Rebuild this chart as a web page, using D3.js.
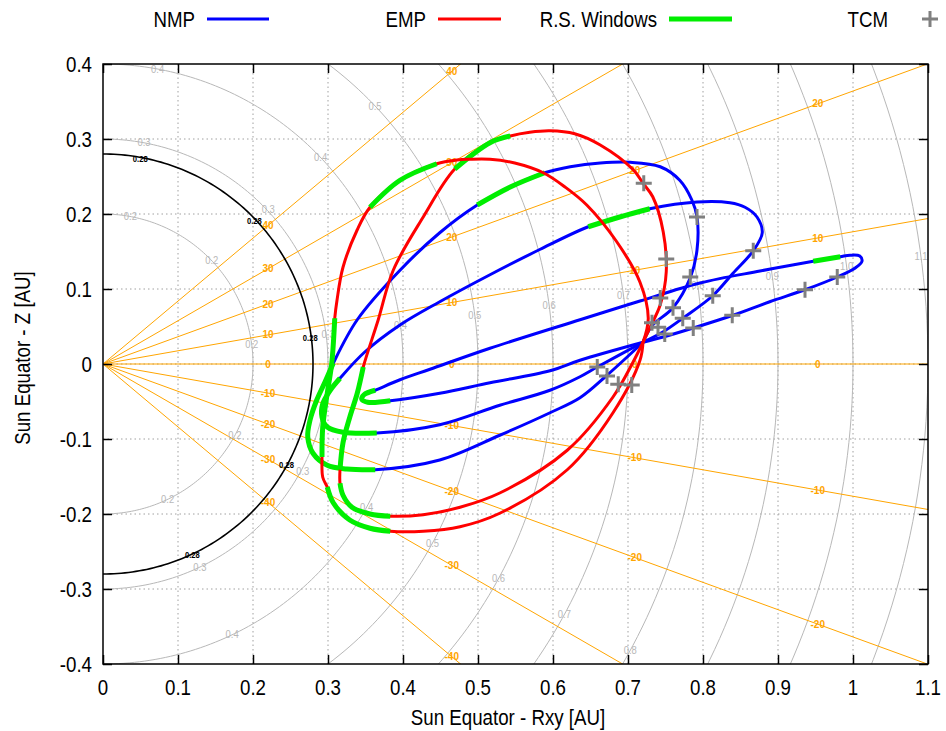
<!DOCTYPE html>
<html>
<head>
<meta charset="utf-8">
<script src="https://cdn.jsdelivr.net/npm/d3@7"></script>
<style>
  html, body { margin: 0; padding: 0; background: #fff; }
  svg { display: block; }
</style>
</head>
<body>
<script>
// ---------- axis ticks ----------
const xTicks = [0, 0.1, 0.2, 0.3, 0.4, 0.5, 0.6, 0.7, 0.8, 0.9, 1, 1.1];
const xTickLabels = ["0", "0.1", "0.2", "0.3", "0.4", "0.5", "0.6", "0.7", "0.8", "0.9", "1", "1.1"];
const yTicks = [-0.4, -0.3, -0.2, -0.1, 0, 0.1, 0.2, 0.3, 0.4];
const yTickLabels = ["-0.4", "-0.3", "-0.2", "-0.1", "0", "0.1", "0.2", "0.3", "0.4"];

// ---------- heliocentric distance circles [AU] ----------
const distanceRadii = [0.2, 0.3, 0.4, 0.5, 0.6, 0.7, 0.8, 0.9, 1.0, 1.1];
const distanceLabelAngles = [79.5, 43.5, 7.5, -28.5, -64.5];   // degrees
const perihelionRadius = 0.28;

// ---------- solar latitude lines [deg] ----------
const latitudes = [-40, -30, -20, -10, 0, 10, 20, 30, 40];
const latitudeLabelRxy = [0.22, 0.465, 0.709, 0.953];

// ---------- nominal mission phase orbits (Rxy, Z) [AU] ----------
const nmpOrbit1 = [
  [0.720, 0.029], [0.747, 0.036], [0.787, 0.048], [0.840, 0.065], [0.889, 0.083],
  [0.936, 0.099], [0.979, 0.116], [1.003, 0.128], [1.012, 0.137], [1.009, 0.144],
  [0.996, 0.145], [0.983, 0.143], [0.947, 0.137], [0.876, 0.124], [0.796, 0.108],
  [0.716, 0.084], [0.636, 0.059], [0.516, 0.021], [0.436, -0.007], [0.396, -0.021],
  [0.363, -0.035], [0.348, -0.041], [0.345, -0.047], [0.353, -0.051], [0.383, -0.049],
  [0.449, -0.039], [0.516, -0.025], [0.596, -0.009], [0.636, 0.005], [0.720, 0.029]
];
const nmpOrbit1Windows = [[11, 12], [20, 24]];

const nmpOrbit2 = [
  [0.720, 0.029], [0.747, 0.043], [0.773, 0.061], [0.813, 0.091], [0.840, 0.121],
  [0.867, 0.151], [0.879, 0.175], [0.872, 0.196], [0.856, 0.209], [0.836, 0.215],
  [0.792, 0.216], [0.729, 0.207], [0.689, 0.196], [0.647, 0.183], [0.583, 0.153],
  [0.516, 0.119], [0.449, 0.083], [0.396, 0.052], [0.349, 0.016], [0.316, -0.019],
  [0.303, -0.035], [0.293, -0.053], [0.292, -0.071], [0.299, -0.084], [0.320, -0.091],
  [0.365, -0.092], [0.449, -0.081], [0.529, -0.055], [0.596, -0.035], [0.636, -0.017],
  [0.659, -0.004], [0.720, 0.029]
];
const nmpOrbit2Windows = [[11, 13], [19, 25]];

const nmpOrbit3 = [
  [0.720, 0.029], [0.732, 0.051], [0.760, 0.075], [0.783, 0.115], [0.792, 0.152],
  [0.792, 0.196], [0.785, 0.219], [0.769, 0.245], [0.743, 0.263], [0.703, 0.269],
  [0.663, 0.268], [0.623, 0.263], [0.589, 0.255], [0.543, 0.236], [0.499, 0.212],
  [0.449, 0.175], [0.396, 0.125], [0.339, 0.059], [0.307, 0.001], [0.296, -0.024],
  [0.285, -0.048], [0.276, -0.075], [0.273, -0.097], [0.280, -0.119], [0.299, -0.135],
  [0.325, -0.140], [0.363, -0.141], [0.449, -0.128], [0.529, -0.095], [0.596, -0.065],
  [0.636, -0.045], [0.672, -0.015], [0.720, 0.029]
];
const nmpOrbit3Windows = [[12, 14], [18, 26]];

// ---------- extended mission phase orbits (Rxy, Z) [AU] ----------
const empOrbit1 = [
  [0.720, 0.029], [0.729, 0.048], [0.743, 0.079], [0.751, 0.123], [0.747, 0.176],
  [0.733, 0.223], [0.720, 0.241], [0.707, 0.259], [0.663, 0.292], [0.629, 0.307],
  [0.596, 0.311], [0.569, 0.309], [0.543, 0.304], [0.516, 0.295], [0.469, 0.260],
  [0.427, 0.196], [0.387, 0.125], [0.367, 0.059], [0.347, -0.004], [0.339, -0.039],
  [0.329, -0.071], [0.320, -0.105], [0.316, -0.141], [0.316, -0.159], [0.320, -0.175],
  [0.332, -0.191], [0.356, -0.200], [0.383, -0.203], [0.427, -0.201], [0.476, -0.191],
  [0.529, -0.172], [0.619, -0.115], [0.680, -0.044], [0.707, 0.003], [0.720, 0.029]
];
const empOrbit1Windows = [[12, 14], [18, 22], [23, 27]];

const empOrbit2 = [
  [0.720, 0.029], [0.727, 0.061], [0.716, 0.109], [0.685, 0.163], [0.645, 0.212],
  [0.616, 0.236], [0.587, 0.255], [0.549, 0.268], [0.516, 0.273], [0.489, 0.273],
  [0.472, 0.272], [0.445, 0.267], [0.396, 0.245], [0.356, 0.209], [0.339, 0.179],
  [0.320, 0.129], [0.312, 0.085], [0.309, 0.061], [0.305, 0.001], [0.299, -0.039],
  [0.293, -0.084], [0.292, -0.124], [0.293, -0.151], [0.299, -0.164], [0.307, -0.185],
  [0.329, -0.208], [0.356, -0.219], [0.383, -0.223], [0.427, -0.223], [0.476, -0.217],
  [0.529, -0.199], [0.619, -0.141], [0.680, -0.065], [0.716, 0.005], [0.720, 0.029]
];
const empOrbit2Windows = [[11, 13], [17, 21], [23, 27]];

// ---------- trajectory correction manoeuvres (Rxy, Z) [AU] ----------
const tcmRxy = [0.721, 0.792, 0.867, 0.751, 0.783, 0.743, 0.813, 0.760, 0.773, 0.839,
                0.787, 0.732, 0.740, 0.749, 0.936, 0.979, 0.659, 0.672, 0.687, 0.705];
const tcmZ   = [0.241, 0.196, 0.151, 0.140, 0.116, 0.088, 0.091, 0.075, 0.061, 0.065,
                0.048, 0.055, 0.049, 0.040, 0.099, 0.116, -0.004, -0.016, -0.027, -0.028];

// ---------- legend ----------
const legendEntries = ["NMP", "EMP", "R.S. Windows", "TCM"];

// ================= drawing =================
const W = 946, H = 731;
const plot = { left: 103, right: 928, top: 64, bottom: 664 };
const FONT = "'Liberation Sans', Arial, Helvetica, sans-serif";
const COL = { nmp: "#0000ff", emp: "#ff0000", win: "#00ee00", tcm: "#808080",
              lat: "#ffa500", circ: "#b8b8b8", grid: "#a0a0a0" };

const svg = d3.select("body").append("svg").attr("width", W).attr("height", H);

const x = d3.scaleLinear().domain([0, 1.1]).range([plot.left, plot.right]);
const y = d3.scaleLinear().domain([-0.4, 0.4]).range([plot.bottom, plot.top]);

svg.append("defs").append("clipPath").attr("id", "plotClip")
  .append("rect").attr("x", plot.left).attr("y", plot.top)
  .attr("width", plot.right - plot.left).attr("height", plot.bottom - plot.top);

// narrow-looking sans text, anchored at (px, py)
function label(g, txt, px, py, opts = {}) {
  const t = g.append("text")
    .attr("transform", `translate(${px},${py}) scale(${opts.sx || 0.85},1)`)
    .attr("text-anchor", opts.anchor || "middle")
    .attr("dominant-baseline", "central")
    .attr("font-family", FONT)
    .attr("font-size", opts.size || 22)
    .attr("fill", opts.fill || "#000")
    .text(txt);
  if (opts.weight) t.attr("font-weight", opts.weight);
  return t;
}

// grid
const grid = svg.append("g");
grid.selectAll("line.gx").data(xTicks.filter(v => v > 0 && v < 1.1)).join("line")
  .attr("x1", d => x(d)).attr("x2", d => x(d)).attr("y1", plot.top).attr("y2", plot.bottom)
  .attr("stroke", COL.grid).attr("stroke-width", 1).attr("stroke-dasharray", "1.5,3");
grid.selectAll("line.gy").data(yTicks.filter(v => v > -0.4 && v < 0.4)).join("line")
  .attr("x1", plot.left).attr("x2", plot.right).attr("y1", d => y(d)).attr("y2", d => y(d))
  .attr("stroke", COL.grid).attr("stroke-width", 1).attr("stroke-dasharray", "1.5,3");

const inner = svg.append("g").attr("clip-path", "url(#plotClip)");

// half circle of radius r (x >= 0)
function arcPts(r) {
  return d3.range(-90, 90.01, 1).map(a => [r * Math.cos(a * Math.PI / 180), r * Math.sin(a * Math.PI / 180)]);
}
const straight = d3.line().x(d => x(d[0])).y(d => y(d[1]));
const smooth = d3.line().x(d => x(d[0])).y(d => y(d[1])).curve(d3.curveCatmullRom.alpha(0.5));

// distance circles
inner.selectAll("path.circ").data(distanceRadii).join("path")
  .attr("d", r => straight(arcPts(r)))
  .attr("fill", "none").attr("stroke", COL.circ).attr("stroke-width", 1);

// latitude lines
inner.selectAll("line.lat").data(latitudes).join("line")
  .attr("x1", x(0)).attr("y1", y(0))
  .attr("x2", d => x(2 * Math.cos(d * Math.PI / 180)))
  .attr("y2", d => y(2 * Math.sin(d * Math.PI / 180)))
  .attr("stroke", COL.lat).attr("stroke-width", 1);

// distance labels
const lblG = svg.append("g");
distanceRadii.forEach(r => {
  distanceLabelAngles.forEach(a => {
    const px = r * Math.cos(a * Math.PI / 180), pz = r * Math.sin(a * Math.PI / 180);
    // small nudge so labels near the perihelion circle stay readable
    const dx = (r === 0.3 && Math.abs(a) < 45) ? 2 : 0;
    if (px <= 1.1 && Math.abs(pz) <= 0.395)
      label(lblG, d3.format(".1f")(r), x(px) + dx, y(pz), { size: 10.5, fill: COL.circ, sx: 0.9 });
  });
});

// latitude labels
latitudes.forEach(lat => {
  latitudeLabelRxy.forEach(rx => {
    const pz = rx * Math.tan(lat * Math.PI / 180);
    if (Math.abs(pz) <= 0.395)
      label(lblG, String(lat), x(rx), y(pz), { size: 10.5, fill: COL.lat, sx: 0.95, weight: "bold" });
  });
});

// perihelion circle
inner.append("path").attr("d", straight(arcPts(perihelionRadius)))
  .attr("fill", "none").attr("stroke", "#000").attr("stroke-width", 1.6);
distanceLabelAngles.forEach(a => {
  const px = perihelionRadius * Math.cos(a * Math.PI / 180), pz = perihelionRadius * Math.sin(a * Math.PI / 180);
  label(lblG, String(perihelionRadius), x(px) - 1, y(pz) + 1, { size: 9, fill: "#000", sx: 0.85, weight: "bold" });
});

// orbits
const traj = svg.append("g").attr("clip-path", "url(#plotClip)");
function drawOrbit(pts, windows, color) {
  traj.append("path").attr("d", smooth(pts)).attr("fill", "none")
    .attr("stroke", color).attr("stroke-width", 3).attr("stroke-linejoin", "round");
  windows.forEach(([a, b]) => {
    traj.append("path").attr("d", smooth(pts.slice(a, b + 1))).attr("fill", "none")
      .attr("stroke", COL.win).attr("stroke-width", 5).attr("stroke-linecap", "butt");
  });
}
drawOrbit(nmpOrbit1, nmpOrbit1Windows, COL.nmp);
drawOrbit(nmpOrbit2, nmpOrbit2Windows, COL.nmp);
drawOrbit(nmpOrbit3, nmpOrbit3Windows, COL.nmp);
drawOrbit(empOrbit1, empOrbit1Windows, COL.emp);
drawOrbit(empOrbit2, empOrbit2Windows, COL.emp);

// TCM markers
const plus = (g, cx, cy, s) => {
  g.append("path").attr("d", `M${cx - s},${cy}H${cx + s}M${cx},${cy - s}V${cy + s}`)
    .attr("stroke", COL.tcm).attr("stroke-width", 3).attr("fill", "none");
};
tcmRxy.forEach((v, i) => plus(traj, x(v), y(tcmZ[i]), 8));

// frame and ticks
const ax = svg.append("g");
function styleAxis(g) {
  g.select(".domain").remove();
  g.selectAll(".tick line").attr("stroke", "#000").attr("stroke-width", 1.5);
  g.selectAll(".tick text").remove();
}
ax.append("g").attr("transform", `translate(0,${plot.bottom})`)
  .call(d3.axisBottom(x).tickValues(xTicks).tickSize(-9)).call(styleAxis);
ax.append("g").attr("transform", `translate(0,${plot.top})`)
  .call(d3.axisTop(x).tickValues(xTicks).tickSize(-9)).call(styleAxis);
ax.append("g").attr("transform", `translate(${plot.left},0)`)
  .call(d3.axisLeft(y).tickValues(yTicks).tickSize(-9)).call(styleAxis);
ax.append("g").attr("transform", `translate(${plot.right},0)`)
  .call(d3.axisRight(y).tickValues(yTicks).tickSize(-9)).call(styleAxis);
ax.append("rect").attr("x", plot.left).attr("y", plot.top)
  .attr("width", plot.right - plot.left).attr("height", plot.bottom - plot.top)
  .attr("fill", "none").attr("stroke", "#000").attr("stroke-width", 1.5);

// tick labels
xTicks.forEach((v, i) => label(ax, xTickLabels[i], x(v), 687));
yTicks.forEach((v, i) => label(ax, yTickLabels[i], 92, y(v), { anchor: "end" }));

// axis titles
label(ax, "Sun Equator - Rxy [AU]", 508, 717);
svg.append("text")
  .attr("transform", `translate(22,358) rotate(-90) scale(0.85,1)`)
  .attr("text-anchor", "middle").attr("dominant-baseline", "central")
  .attr("font-family", FONT).attr("font-size", 22).text("Sun Equator - Z [AU]");

// legend
const leg = svg.append("g");
const legendSpec = [
  { textEnd: 195, x1: 207, x2: 269, color: COL.nmp, w: 3 },
  { textEnd: 426, x1: 438, x2: 501, color: COL.emp, w: 3 },
  { textEnd: 657, x1: 669, x2: 732, color: COL.win, w: 5 },
  { textEnd: 888, cx: 930 }
];
legendEntries.forEach((name, i) => {
  const s = legendSpec[i];
  label(leg, name, s.textEnd, 19, { anchor: "end" });
  if (s.cx) plus(leg, s.cx, 19, 8);
  else leg.append("line").attr("x1", s.x1).attr("x2", s.x2).attr("y1", 19).attr("y2", 19)
    .attr("stroke", s.color).attr("stroke-width", s.w);
});
</script>
</body>
</html>
